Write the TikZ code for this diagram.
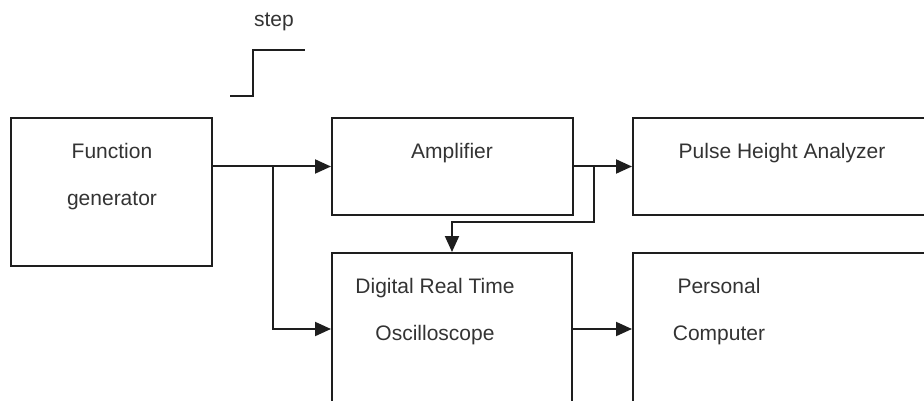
\documentclass[tikz,border=0pt]{standalone}
\usepackage{fontspec}
\setmainfont{Liberation Sans}
\usepackage{tikz}
\usetikzlibrary{arrows.meta,positioning,calc}
\definecolor{inkline}{HTML}{1E1E1E}
\definecolor{inktext}{HTML}{333333}

\begin{document}
\begin{tikzpicture}[x=1pt,y=-1pt,
    block/.style={draw=inkline,line width=2pt,rectangle,inner sep=0pt},
    label/.style={text=inktext,font=\fontsize{21}{47}\selectfont,align=center,inner sep=0pt},
    wire/.style={draw=inkline,line width=2pt},
    arrow/.style={wire,-{Triangle[length=16pt,width=14pt]}}]
    \clip (0,0) rectangle (924,401);

    % Blocks
    \node[block,minimum width=201pt,minimum height=148pt] (fg) at (111.5,192) {};
    \node[block,minimum width=241pt,minimum height=97pt] (amp) at (452.5,166.5) {};
    \node[block,minimum width=300pt,minimum height=97pt] (pha) at (783,166.5) {};
    \node[block,minimum width=240pt,minimum height=152pt] (drto) at (452,329) {};
    \node[block,minimum width=300pt,minimum height=152pt] (pc) at (783,329) {};

    % Block texts (base = last line)
    \node[label,anchor=base] (fgtxt) at (112,205) {Function\\generator};
    \node[label,anchor=base] (amptxt) at (452,159) {Amplifier};
    \node[label,anchor=base] (phatxt) at (782,159) {Pulse Height Analyzer};
    \node[label,anchor=base] (drtotxt) at (435,340) {Digital Real Time\\Oscilloscope};
    \node[label,anchor=base] (pctxt) at (719,340) {Personal\\Computer};

    % Step input
    \node[label,anchor=base] (steptxt) at (274,27) {step};
    \draw[wire] (230,96) -- (253,96) -- (253,50) -- (305,50);

    % Connections
    \coordinate (j1) at (273,166.5);
    \coordinate (j2) at (594,166.5);
    \draw[arrow] (fg.east |- amp.west) -- (amp.west);
    \draw[arrow] (j1) |- (drto.west);
    \draw[arrow] (amp.east) -- (pha.west);
    \draw[arrow] (j2) |- ($(drto.north)+(0,-30)$) -- (drto.north);
    \draw[arrow] (drto.east) -- (pc.west);
\end{tikzpicture}
\end{document}
